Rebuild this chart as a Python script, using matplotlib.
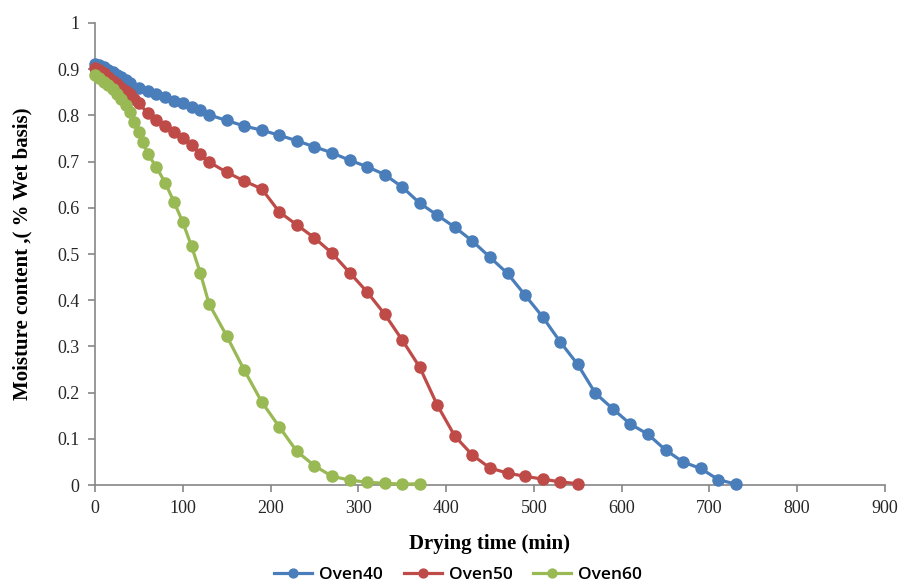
import numpy as np
import matplotlib.pyplot as plt

# drying curves
t40 = [0, 5, 10, 15, 20, 25, 30, 35, 40, 50, 60, 70, 80, 90, 100, 110, 120, 130,
       150, 170, 190, 210, 230, 250, 270, 290, 310, 330, 350, 370, 390, 410, 430,
       450, 470, 490, 510, 530, 550, 570, 590, 610, 630, 650, 670, 690, 710, 730]
m40 = [0.912, 0.910, 0.905, 0.898, 0.893, 0.887, 0.882, 0.877, 0.870, 0.860, 0.852,
       0.847, 0.840, 0.831, 0.826, 0.818, 0.812, 0.801, 0.789, 0.777, 0.768, 0.757,
       0.745, 0.732, 0.719, 0.703, 0.689, 0.672, 0.645, 0.610, 0.584, 0.558, 0.528,
       0.493, 0.458, 0.411, 0.364, 0.310, 0.261, 0.199, 0.165, 0.132, 0.110, 0.076,
       0.050, 0.036, 0.012, 0.002]

t50 = [0, 5, 10, 15, 20, 25, 30, 35, 40, 45, 50, 60, 70, 80, 90, 100, 110, 120, 130,
       150, 170, 190, 210, 230, 250, 270, 290, 310, 330, 350, 370, 390, 410, 430,
       450, 470, 490, 510, 530, 550]
m50 = [0.903, 0.898, 0.891, 0.883, 0.875, 0.867, 0.860, 0.853, 0.846, 0.836, 0.826,
       0.805, 0.789, 0.776, 0.763, 0.751, 0.736, 0.716, 0.699, 0.677, 0.658, 0.641,
       0.591, 0.563, 0.535, 0.502, 0.460, 0.418, 0.370, 0.314, 0.255, 0.173, 0.106,
       0.065, 0.037, 0.026, 0.019, 0.013, 0.007, 0.003]

t60 = [0, 5, 10, 15, 20, 25, 30, 35, 40, 45, 50, 55, 60, 70, 80, 90, 100, 110, 120,
       130, 150, 170, 190, 210, 230, 250, 270, 290, 310, 330, 350, 370]
m60 = [0.887, 0.880, 0.873, 0.865, 0.857, 0.847, 0.836, 0.823, 0.807, 0.786, 0.764,
       0.742, 0.717, 0.688, 0.654, 0.613, 0.569, 0.517, 0.459, 0.392, 0.323, 0.249,
       0.180, 0.126, 0.073, 0.042, 0.019, 0.011, 0.006, 0.004, 0.002, 0.003]

series = [("Oven40", t40, m40, "#4A7EBB"),
          ("Oven50", t50, m50, "#BE4B48"),
          ("Oven60", t60, m60, "#98B954")]

fig = plt.figure(figsize=(9.07, 5.88), dpi=100)
ax = fig.add_axes([0.1047, 0.175, 0.871, 0.786])

for name, t, m, c in series:
    ax.plot(t, m, color=c, linewidth=2.3, marker='o', markersize=8,
            markeredgecolor=c, label=name, clip_on=False, zorder=3)

ax.set_xlim(0, 900)
ax.set_ylim(0, 1)
ax.set_xticks(np.arange(0, 901, 100))
ax.set_yticks(np.arange(0, 1.01, 0.1))
ax.set_yticklabels(['0'] + ['%.1f' % v for v in np.arange(0.1, 1.0, 0.1)] + ['1'])

for s in ['top', 'right']:
    ax.spines[s].set_visible(False)
for s in ['left', 'bottom']:
    ax.spines[s].set_color('#868686')
    ax.spines[s].set_linewidth(1.2)
ax.tick_params(direction='out', length=5, color='#868686', width=1.2,
               labelsize=13, labelcolor='#262626', pad=6)
for lab in ax.get_xticklabels() + ax.get_yticklabels():
    lab.set_family('Liberation Serif')

ax.set_xlabel('Drying time (min)', family='Liberation Serif', fontweight='bold',
              fontsize=15, labelpad=12)
ax.set_ylabel('Moisture content ,( % Wet basis)', family='Liberation Serif',
              fontweight='bold', fontsize=15, labelpad=18)

fig.legend(loc='lower center', bbox_to_anchor=(0.505, -0.018), ncol=3, frameon=False,
           prop={'family': 'Open Sans', 'size': 12.5, 'weight': 'semibold'},
           handlelength=2.2, columnspacing=1.2, handletextpad=0.4, markerscale=0.8)

fig.savefig('out.png', dpi=100)
